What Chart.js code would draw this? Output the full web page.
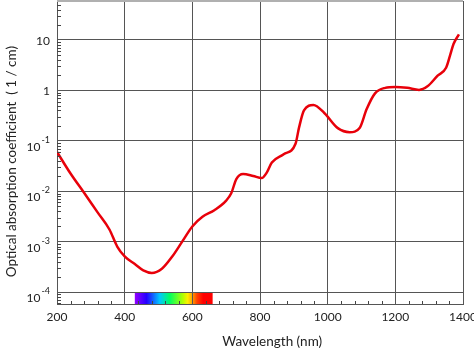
<!DOCTYPE html>
<html>
<head>
<meta charset="utf-8">
<script src="https://cdn.jsdelivr.net/npm/chart.js@4.4.1/dist/chart.umd.min.js"></script>
<style>
  html, body { margin: 0; padding: 0; background: #fff; }
  #wrap { width: 474px; height: 351px; }
</style>
</head>
<body>
<div id="wrap"><canvas id="myChart"></canvas></div>
<script>
// wavelength (nm) and absorption coefficient (1/cm)
const wavelengths = [200, 240, 280, 320, 355, 378, 400, 430, 455, 480, 510, 540, 570, 600, 630, 665, 700, 715, 730, 750, 780, 805, 820, 835, 870, 905, 915, 930, 958, 990, 1030, 1065, 1095, 1115, 1140, 1170, 1200, 1235, 1270, 1295, 1325, 1350, 1362, 1372, 1388];
const absorption = [0.06, 0.0224, 0.0093, 0.0038, 0.00174, 0.0008, 0.00051, 0.00036, 0.00027, 0.00024, 0.00029, 0.0005, 0.001, 0.002, 0.0031, 0.0042, 0.0065, 0.0091, 0.0174, 0.0219, 0.02, 0.0182, 0.0234, 0.037, 0.054, 0.087, 0.178, 0.4, 0.51, 0.355, 0.178, 0.148, 0.182, 0.42, 0.87, 1.12, 1.17, 1.12, 1.02, 1.2, 1.95, 2.8, 5.0, 8.3, 12.9];

const xTicks = [200, 400, 600, 800, 1000, 1200, 1400];
const xMinorStep = 40;
const yExponents = [-4, -3, -2, -1, 0, 1];

// visible band drawn under the curve
const spectrumRange = [430, 660];
const spectrumStops = [0, 0.15, 0.32, 0.45, 0.62, 0.68, 0.74, 0.8, 0.88, 1];
const spectrumColors = ["#9400ff", "#2400ff", "#00c8ff", "#00ff60", "#b4ff00", "#ffee00", "#ffa000", "#ff4000", "#ff0000", "#ff0000"];

const FONT = "Lato";
const TEXT = "#222";
const GRID = "#555";

const spectrumPlugin = {
  id: "spectrum",
  beforeDraw(chart) {
    const { ctx, chartArea, scales } = chart;
    const x1 = scales.x.getPixelForValue(spectrumRange[0]);
    const x2 = scales.x.getPixelForValue(spectrumRange[1]);
    const yTop = scales.y.getPixelForValue(1e-4);
    const grad = ctx.createLinearGradient(x1, 0, x2, 0);
    spectrumStops.forEach((s, i) => grad.addColorStop(s, spectrumColors[i]));
    ctx.save();
    ctx.fillStyle = grad;
    ctx.fillRect(x1, yTop, x2 - x1, chartArea.bottom - yTop);
    ctx.restore();
  },
};

const decorPlugin = {
  id: "decor",
  afterDraw(chart) {
    const { ctx, chartArea, scales } = chart;
    const { left, right, top, bottom } = chartArea;
    ctx.save();

    // frame
    ctx.strokeStyle = "#b0b0b0";
    ctx.lineWidth = 2;
    ctx.beginPath();
    ctx.moveTo(left, top);
    ctx.lineTo(right, top);
    ctx.stroke();
    ctx.strokeStyle = GRID;
    ctx.lineWidth = 1;
    ctx.beginPath();
    ctx.moveTo(right + 0.5, top);
    ctx.lineTo(right + 0.5, bottom);
    ctx.stroke();

    // minor ticks
    ctx.strokeStyle = "#444";
    ctx.beginPath();
    for (let e = -5; e <= 1; e++) {
      for (let m = 2; m <= 9; m++) {
        const v = m * Math.pow(10, e);
        if (v < scales.y.min || v > scales.y.max) continue;
        const y = Math.round(scales.y.getPixelForValue(v)) + 0.5;
        ctx.moveTo(left, y);
        ctx.lineTo(left + 4, y);
      }
    }
    for (let w = xTicks[0]; w <= xTicks[xTicks.length - 1]; w += xMinorStep) {
      if (w % 200 === 0) continue;
      const x = Math.round(scales.x.getPixelForValue(w)) + 0.5;
      ctx.moveTo(x, bottom);
      ctx.lineTo(x, bottom - 3);
    }
    ctx.stroke();

    // y tick labels with exponents
    ctx.fillStyle = TEXT;
    ctx.textAlign = "right";
    ctx.textBaseline = "middle";
    const xr = left - 7;
    yExponents.forEach((e) => {
      const y = scales.y.getPixelForValue(Math.pow(10, e));
      if (e === 0 || e === 1) {
        ctx.font = "12px " + FONT;
        ctx.fillText(e === 0 ? "1" : "10", xr, y + 1);
      } else {
        const exp = String(e);
        ctx.font = "9px " + FONT;
        const w = ctx.measureText(exp).width;
        ctx.fillText(exp, xr, y - 1);
        ctx.font = "12px " + FONT;
        ctx.fillText("10", xr - w - 1, y + 6);
      }
    });

    // axis titles
    ctx.font = "13.5px " + FONT;
    ctx.textAlign = "center";
    ctx.textBaseline = "alphabetic";
    ctx.fillText("Wavelength (nm)", left + (right - left) * 0.53, 346);
    ctx.translate(16, top + (bottom - top) * 0.53);
    ctx.rotate(-Math.PI / 2);
    ctx.fillText("Optical absorption coefficient  ( 1 / cm)", 0, 0);
    ctx.restore();
  },
};

const ctx = document.getElementById("myChart").getContext("2d");
const myChart = new Chart(ctx, {
  type: "line",
  data: {
    datasets: [
      {
        data: wavelengths.map((w, i) => ({ x: w, y: absorption[i] })),
        borderColor: "#e8000a",
        borderWidth: 2.5,
        pointRadius: 0,
        cubicInterpolationMode: "monotone",
        fill: false,
      },
    ],
  },
  options: {
    responsive: true,
    maintainAspectRatio: false,
    animation: false,
    layout: { padding: { top: 1, right: 11, left: 0, bottom: 0 } },
    plugins: {
      legend: { display: false },
      tooltip: { enabled: false },
    },
    scales: {
      x: {
        type: "linear",
        min: 200,
        max: 1400,
        afterBuildTicks: (scale) => {
          scale.ticks = xTicks.map((v) => ({ value: v }));
        },
        afterFit: (scale) => {
          scale.height = 47;
          scale.paddingLeft = 0;
          scale.paddingRight = 0;
        },
        grid: { color: GRID, lineWidth: 1, drawTicks: false },
        border: { display: true, color: GRID, width: 1 },
        ticks: {
          color: TEXT,
          font: { family: FONT, size: 12 },
          padding: 6,
          maxRotation: 0,
          autoSkip: false,
          callback: (value) => String(value),
        },
      },
      y: {
        type: "logarithmic",
        min: 5.8e-5,
        max: 59,
        afterBuildTicks: (scale) => {
          scale.ticks = yExponents.map((e) => ({ value: Math.pow(10, e) }));
        },
        afterFit: (scale) => {
          scale.width = 57;
        },
        grid: { color: GRID, lineWidth: 1, drawTicks: false },
        border: { display: true, color: GRID, width: 1 },
        ticks: { display: false },
      },
    },
  },
  plugins: [spectrumPlugin, decorPlugin],
});
</script>
</body>
</html>
